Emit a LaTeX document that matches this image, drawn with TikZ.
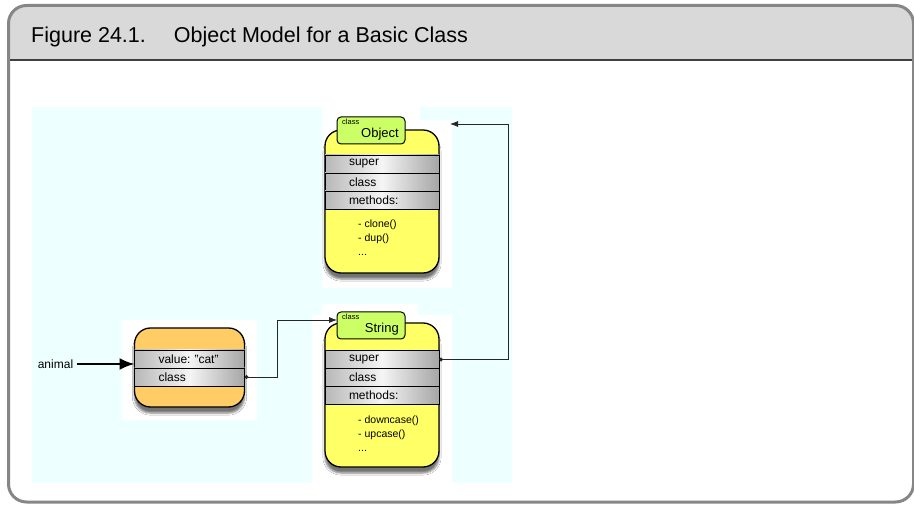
\documentclass[tikz,border=0pt]{standalone}
\usepackage{fontspec}
\setmainfont{Liberation Sans}
\usetikzlibrary{positioning, arrows.meta, shadows.blur}

\definecolor{frameGray}{HTML}{868686}
\definecolor{headGray}{HTML}{D9D9D9}
\definecolor{paleCyan}{HTML}{EEFFFF}
\definecolor{classYellow}{HTML}{FFFF66}
\definecolor{tabGreen}{HTML}{CCFF66}
\definecolor{instOrange}{HTML}{FFCC66}

\tikzset{
  body/.style={draw, line width=1.3pt, rounded corners=16pt, minimum width=114pt,
    outer sep=0pt, blur shadow={shadow xshift=0pt, shadow yshift=-6pt, shadow opacity=55}},
  tabbox/.style={draw, line width=1pt, fill=tabGreen, rounded corners=4pt,
    minimum width=68pt, minimum height=27pt, outer sep=0pt},
  slot/.style={draw, line width=0.8pt, left color=black!28, right color=black!35,
    middle color=black!4, minimum width=114pt, minimum height=18pt, text width=66pt,
    align=left, inner xsep=0pt, inner ysep=0pt, outer sep=0pt,
    font=\fontsize{12}{14}\selectfont},
  listing/.style={align=left, inner sep=0pt, font=\fontsize{10.5}{14}\selectfont},
  tag/.style={inner sep=0pt, font=\fontsize{7.5}{8}\selectfont},
  cname/.style={inner sep=0pt, font=\fontsize{13}{15}\selectfont},
  link/.style={{Circle[length=4pt]}-{Latex[length=8pt, width=6pt]}, line width=0.8pt, black!85},
}

\begin{document}
\begin{tikzpicture}[x=1pt, y=-1pt]
  \useasboundingbox (0,0) rectangle (914,505);
  % frame and header
  \fill[white, rounded corners=18pt] (8.5,5.5) rectangle (913.5,502);
  \fill[headGray, rounded corners=18pt] (8.5,5.5) rectangle (913.5,100);
  \fill[white] (8.5,60) rectangle (913.5,100);
  \draw[black!75, line width=1.5pt] (8.5,60) -- (913.5,60);
  \draw[frameGray, line width=3pt, rounded corners=18pt] (8.5,5.5) rectangle (913.5,502);
  \node[anchor=base west, inner sep=0pt, font=\fontsize{21.5}{24}\selectfont] (title) at (31,42.5)
    {Figure 24.1.\hspace{28pt}Object Model for a Basic Class};

  % canvas
  \fill[paleCyan] (32,107) rectangle (512,483);
  \fill[white] (322,107) rectangle (420,120);
  \fill[white] (322,120) rectangle (452,288);
  \fill[white] (322,304) rectangle (418,315);
  \fill[white] (312,315) rectangle (452,483);
  \fill[white] (122,320) rectangle (257,420);

  % the instance
  \node[body, fill=instOrange, minimum width=110pt, minimum height=79pt] (ibody) at (189.5,367.5) {};
  \node[slot, minimum width=110pt, text width=62pt, below=22pt of ibody.north] (ival) {\mbox{value:\ "cat"}};
  \node[slot, minimum width=110pt, text width=62pt, below=0pt of ival] (icls) {class};
  \node[font=\fontsize{12}{14}\selectfont] (animal) at (55.5,364) {animal};

  % class Object
  \node[body, fill=classYellow, minimum height=143pt] (obody) at (382,201.5) {};
  \node[slot, below=25pt of obody.north] (osup) {super};
  \node[slot, below=0pt of osup] (ocls) {class};
  \node[slot, below=0pt of ocls] (ometh) {methods:};
  \node[listing, anchor=north west] (olist) at (358,220) {- clone()\\- dup()\\...};
  \node[tabbox] (otab) at (371,130.5) {};
  \node[tag, below right=2pt and 5pt of otab.north west] (otag) {class};
  \node[cname, above left=4pt and 6pt of otab.south east] (oname) {Object};

  % class String
  \node[body, fill=classYellow, minimum height=144pt] (sbody) at (382,395) {};
  \node[slot, below=27.5pt of sbody.north] (ssup) {super};
  \node[slot, below=0pt of ssup] (scls) {class};
  \node[slot, below=0pt of scls] (smeth) {methods:};
  \node[listing, anchor=north west] (slist) at (358,416) {- downcase()\\- upcase()\\...};
  \node[tabbox] (stab) at (371,325.5) {};
  \node[tag, below right=2pt and 5pt of stab.north west] (stag) {class};
  \node[cname, above left=4pt and 6pt of stab.south east] (sname) {String};

  % pointers
  \coordinate (jog1) at (277,320);
  \coordinate (jog2) at (508,124);
  \coordinate (objin) at (450,124);
  \draw[-{Latex[length=15pt, width=12pt]}, line width=2.2pt] (animal.east) -- (animal.east -| ibody.west);
  \draw[link] (icls.east) -| (jog1) -- (jog1 -| stab.west);
  \draw[link] (ssup.east) -| (jog2) -- (objin);
\end{tikzpicture}
\end{document}
